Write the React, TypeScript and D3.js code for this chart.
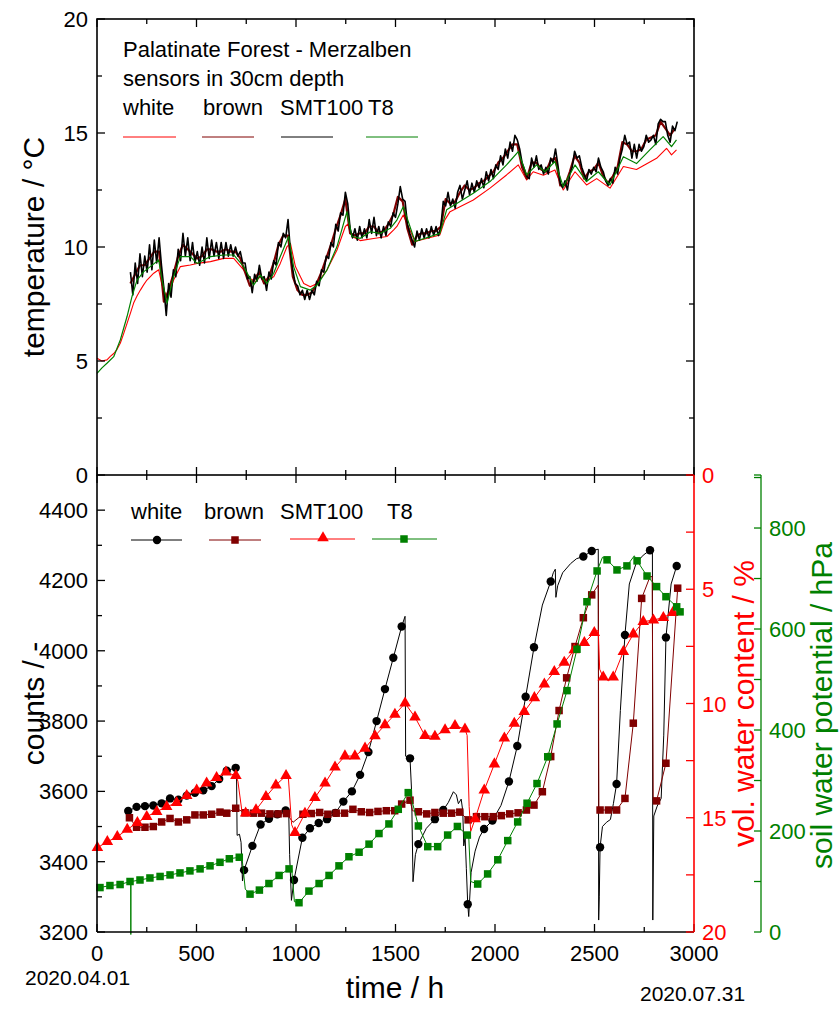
import React from 'react';
import * as d3 from 'd3';

const FONT = '"Liberation Sans", Arial, Helvetica, sans-serif';
const RED = '#ff0000';
const BROWN = '#800000';
const GREEN = '#008000';

// ---------- tick labels ----------
const xTickLabels = [0, 500, 1000, 1500, 2000, 2500, 3000];
const tempTickLabels = [0, 5, 10, 15, 20];
const countTickLabels = [3200, 3400, 3600, 3800, 4000, 4200, 4400];
const vwcTickLabels = [0, 5, 10, 15, 20];
const hpaTickLabels = [0, 200, 400, 600, 800];

// ---------- top panel: temperatures (°C) ----------
// SMT100 (black), sampled every 12 h from t = 168 h
const smtTempStart = 168;
const smtTempStep = 12;
const tempSMT100 = [
  8.9, 7.9, 9.3, 8.4, 9.7, 8.7, 9.6, 8.9, 10.1, 9.0, 10.3, 9.3, 10.4, 9.2, 8.2, 7.0,
  8.4, 7.8, 9.0, 8.7, 9.9, 9.4, 10.6, 9.6, 10.4, 9.4, 10.2, 9.3, 9.8, 9.2, 10.0, 9.3,
  10.4, 9.5, 10.3, 9.6, 10.2, 9.5, 10.2, 9.5, 10.2, 9.6, 10.1, 9.6, 10.0, 9.6, 9.8, 9.3,
  9.3, 8.6, 8.7, 8.0, 8.8, 8.5, 9.2, 8.6, 8.7, 8.1, 8.9, 8.6, 9.4, 9.2, 10.2, 10.0,
  10.6, 10.4, 11.2, 9.8, 9.0, 8.4, 8.3, 7.9, 8.1, 7.7, 8.1, 7.7, 8.1, 7.9, 8.5, 8.3,
  9.0, 8.9, 9.6, 9.5, 10.2, 10.0, 11.0, 10.7, 11.5, 11.4, 12.4, 11.9, 10.8, 10.4, 10.8, 10.3,
  10.9, 10.4, 10.8, 10.4, 11.2, 10.6, 11.3, 10.5, 10.9, 10.4, 10.9, 10.5, 11.1, 10.9, 11.5, 11.3,
  11.9, 12.65, 12.1, 12.0, 11.0, 10.6, 10.3, 10.0, 10.7, 10.3, 10.8, 10.4, 10.8, 10.4, 10.9, 10.5,
  10.9, 10.5, 10.9, 12.0, 11.8, 12.4, 11.8, 12.1, 11.7, 12.4, 12.7, 12.1, 12.5, 12.9, 12.3, 12.8,
  12.4, 12.9, 12.6, 13.0, 12.6, 13.3, 12.9, 13.4, 13.0, 13.6, 13.4, 14.0, 13.6, 14.3, 13.9, 14.6,
  14.2, 14.9, 14.7, 14.3, 13.7, 13.4, 13.1, 13.0, 13.9, 13.5, 14.0, 13.4, 13.6, 13.2, 13.5, 13.2,
  13.9, 13.7, 14.3, 13.6, 12.8, 12.6, 12.9, 12.5, 13.2, 13.5, 14.2, 13.9, 14.0, 13.5, 13.2, 12.9,
  13.4, 13.2, 13.5, 13.3, 13.9, 13.5, 13.3, 12.9, 12.7, 13.0, 12.8, 13.5, 13.2, 13.9, 14.3, 14.9,
  14.5, 14.6, 13.9, 14.5, 13.9, 14.5, 14.2, 14.4, 14.9, 14.6, 14.7, 14.9, 14.5, 15.4, 15.6, 15.5,
  15.5, 14.9, 14.6, 15.3, 15.1, 15.5,
];

// brown sensor, sampled every 24 h from t = 168 h
const brownTempStart = 168;
const brownTempStep = 24;
const tempBrown = [
  8.4, 8.8, 9.2, 9.2, 9.5, 9.8, 9.8, 7.6, 8.1, 8.8, 9.6, 10.1, 9.9, 9.7, 9.5, 9.6,
  9.9, 9.9, 9.8, 9.8, 9.9, 9.8, 9.8, 9.5, 8.9, 8.3, 8.6, 8.9, 8.4, 8.7, 9.3, 10.1,
  10.5, 10.5, 8.7, 8.1, 7.9, 7.9, 8.0, 8.4, 8.9, 9.5, 10.1, 10.8, 11.4, 12.1, 10.6, 10.5,
  10.6, 10.6, 10.9, 10.9, 10.6, 10.7, 11.0, 11.4, 12.2, 12.0, 10.8, 10.1, 10.5, 10.6, 10.6, 10.7,
  10.7, 10.9, 12.1, 11.9, 12.0, 12.4, 12.7, 12.5, 12.6, 12.8, 12.9, 13.1, 13.3, 13.7, 13.9, 14.2,
  14.5, 14.5, 13.5, 13.0, 13.7, 13.7, 13.4, 13.3, 13.8, 13.9, 12.7, 12.7, 13.3, 14.0, 13.7, 13.0,
  13.3, 13.4, 13.7, 13.1, 12.8, 13.1, 13.5, 14.6, 14.5, 14.2, 14.2, 14.3, 14.7, 14.8, 14.9, 15.5,
  15.2, 14.9, 15.2,
];

// white sensor (red line), [hour, °C]
const tempWhite: [number, number][] = [
  [0, 5.12], [25, 5.0], [50, 5.05], [67, 5.2], [84, 5.33], [100, 5.5], [117, 5.78], [134, 6.2],
  [151, 6.65], [168, 7.1], [184, 7.54], [201, 7.85], [218, 8.11], [235, 8.35], [251, 8.55], [268, 8.7],
  [285, 8.85], [310, 9.0], [327, 8.33], [352, 7.75], [368, 8.1], [385, 8.55], [419, 9.14], [469, 9.21],
  [503, 9.28], [570, 9.36], [637, 9.5], [687, 9.5], [737, 9.0], [770, 8.62], [796, 8.48], [821, 8.7],
  [854, 8.55], [888, 8.7], [921, 9.28], [955, 10.02], [972, 10.16], [997, 9.14], [1039, 8.4], [1072, 8.26],
  [1106, 8.4], [1156, 9.0], [1206, 9.87], [1248, 10.9], [1260, 11.0], [1281, 10.46], [1323, 10.28], [1390, 10.37],
  [1457, 10.46], [1491, 10.75], [1507, 10.9], [1539, 11.4], [1598, 10.24], [1723, 10.53], [1748, 11.19], [1774, 11.55],
  [1891, 12.06], [1975, 12.58], [2058, 13.16], [2117, 13.6], [2159, 12.94], [2192, 13.3], [2243, 13.15], [2301, 13.38],
  [2343, 12.5], [2402, 13.3], [2460, 12.72], [2511, 13.0], [2578, 12.58], [2645, 13.53], [2711, 13.4], [2812, 13.89],
  [2862, 14.33], [2887, 14.04], [2912, 14.26],
];

// T8 sensor (green line), [hour, °C]
const tempT8: [number, number][] = [
  [0, 4.46], [25, 4.7], [50, 4.9], [84, 5.19], [117, 5.92], [151, 6.95], [176, 7.83], [201, 8.55],
  [235, 8.92], [268, 9.14], [310, 9.43], [327, 8.55], [352, 7.54], [385, 8.7], [419, 9.58], [469, 9.58],
  [503, 9.28], [570, 9.58], [637, 9.65], [687, 9.65], [737, 9.14], [787, 8.33], [821, 8.77], [854, 8.4],
  [888, 8.85], [921, 9.58], [963, 10.46], [988, 9.14], [1022, 8.26], [1072, 8.11], [1106, 8.33], [1156, 9.0],
  [1206, 10.02], [1256, 11.55], [1281, 10.46], [1323, 10.38], [1374, 10.67], [1424, 10.6], [1474, 10.82], [1507, 11.18],
  [1539, 11.77], [1598, 10.24], [1723, 10.6], [1757, 11.63], [1891, 12.36], [1975, 12.87], [2058, 13.6], [2117, 14.18],
  [2159, 13.16], [2209, 13.6], [2251, 13.3], [2301, 13.75], [2343, 12.65], [2402, 13.6], [2460, 12.87], [2519, 13.3],
  [2578, 12.72], [2645, 13.96], [2711, 13.66], [2778, 14.26], [2845, 14.84], [2887, 14.4], [2912, 14.7],
];

// ---------- bottom panel ----------
// white sensor, counts: marked points and extra line points
const whiteMarkers: [number, number][] = [
  [157, 3544], [199, 3556], [241, 3558], [283, 3560], [325, 3566], [367, 3580], [409, 3576], [451, 3588],
  [492, 3596], [534, 3603], [576, 3615], [614, 3635], [652, 3659], [697, 3667], [739, 3376], [781, 3445],
  [822, 3506], [864, 3522], [906, 3535], [948, 3546], [990, 3348], [1032, 3468], [1070, 3495], [1114, 3510],
  [1156, 3521], [1198, 3539], [1238, 3571], [1281, 3600], [1322, 3647], [1364, 3712], [1405, 3800], [1447, 3891],
  [1489, 3980], [1531, 4069], [1573, 3694], [1615, 3450], [1698, 3521], [1740, 3547], [1863, 3279], [1945, 3493],
  [1987, 3517], [2070, 3628], [2112, 3729], [2154, 3869], [2196, 4010], [2280, 4197], [2444, 4268], [2486, 4284],
  [2528, 3441], [2611, 3621], [2653, 4045], [2779, 4286], [2859, 4038], [2913, 4241],
];
const whiteLineExtra: [number, number][] = [
  [701, 3660], [704, 3475], [716, 3478], [724, 3455], [731, 3345],
  [963, 3552], [968, 3420], [977, 3290],
  [1548, 4098], [1551, 3700], [1581, 3600], [1588, 3343], [1600, 3420], [1655, 3495],
  [1765, 3568], [1791, 3599], [1806, 3590], [1816, 3565], [1830, 3578], [1838, 3545], [1843, 3445], [1850, 3470], [1856, 3380],
  [1868, 3244], [1880, 3370], [1900, 3430], [1922, 3470], [2030, 3560], [2238, 4130],
  [2293, 4222], [2303, 4232], [2306, 4152], [2315, 4185], [2340, 4222], [2380, 4248], [2410, 4262],
  [2519, 4289], [2521, 3234], [2524, 3300], [2540, 3500], [2560, 3512], [2580, 3520], [2595, 3565],
  [2630, 3830], [2675, 4190], [2710, 4250], [2745, 4272],
  [2791, 4290], [2793, 3234], [2798, 3530], [2815, 3558], [2835, 3580], [2848, 3760], [2885, 4190],
];

// brown sensor, counts
const brownMarkers: [number, number][] = [
  [163, 3525], [199, 3498], [241, 3498], [283, 3500], [325, 3513], [367, 3523], [409, 3513], [451, 3519],
  [492, 3533], [534, 3533], [576, 3535], [618, 3541], [652, 3538], [697, 3552], [744, 3539], [786, 3538],
  [827, 3538], [869, 3536], [910, 3536], [952, 3537], [1035, 3535], [1077, 3537], [1119, 3540], [1160, 3535],
  [1202, 3538], [1244, 3538], [1286, 3549], [1328, 3542], [1370, 3540], [1412, 3543], [1454, 3545], [1496, 3545],
  [1531, 3564], [1573, 3575], [1615, 3542], [1657, 3536], [1698, 3540], [1740, 3538], [1782, 3538], [1823, 3541],
  [1865, 3519], [1907, 3528], [1949, 3528], [1991, 3528], [2032, 3531], [2074, 3536], [2116, 3539], [2158, 3547],
  [2196, 3561], [2238, 3599], [2280, 3699], [2322, 3830], [2360, 3923], [2402, 4012], [2444, 4094], [2486, 4159],
  [2528, 3547], [2570, 3547], [2611, 3547], [2653, 3580], [2695, 3794], [2737, 4149], [2812, 3573], [2859, 3680],
  [2918, 4178],
];
const brownLineExtra: [number, number][] = [
  [985, 3512], [1585, 3545], [2519, 4187], [2522, 3547], [2779, 4211], [2790, 4211], [2795, 3565],
];

// SMT100, volumetric water content (%)
const smtMarkers: [number, number][] = [
  [2, 16.31], [52, 16.05], [102, 15.83], [152, 15.51], [203, 15.22], [250, 14.95], [300, 14.73], [350, 14.52],
  [400, 14.34], [451, 14.03], [501, 13.79], [551, 13.49], [601, 13.25], [648, 13.01], [698, 13.16], [747, 14.8],
  [799, 14.66], [849, 14.08], [899, 13.57], [950, 13.16], [995, 15.65], [1045, 14.81], [1095, 14.12], [1146, 13.49],
  [1196, 12.79], [1246, 12.3], [1296, 12.3], [1347, 11.96], [1397, 11.42], [1447, 10.94], [1497, 10.48], [1548, 9.99],
  [1598, 10.6], [1648, 11.41], [1698, 11.44], [1749, 11.16], [1799, 10.97], [1849, 11.12], [1900, 15.05], [1946, 13.79],
  [1997, 12.65], [2047, 11.52], [2097, 10.87], [2147, 10.36], [2198, 9.75], [2248, 9.15], [2298, 8.61], [2348, 8.2],
  [2398, 7.66], [2449, 7.34], [2499, 6.9], [2544, 8.85], [2594, 8.85], [2645, 7.73], [2695, 6.96], [2745, 6.42],
  [2796, 6.35], [2846, 6.24], [2893, 6.02],
];
const smtLineExtra: [number, number][] = [
  [708, 13.4], [728, 14.7], [962, 13.3], [978, 15.3], [1860, 11.4], [1870, 14.5], [1878, 15.6],
  [2519, 6.8], [2526, 8.5], [2570, 9.0],
];

// T8, soil water potential (hPa)
const t8Markers: [number, number][] = [
  [15, 88], [65, 92], [116, 94], [166, 100], [216, 103], [266, 107], [317, 110], [367, 113],
  [417, 117], [467, 121], [518, 125], [568, 131], [618, 138], [665, 145], [715, 148], [769, 75],
  [816, 83], [864, 96], [915, 112], [965, 125], [1015, 58], [1065, 81], [1116, 96], [1166, 112],
  [1216, 131], [1266, 149], [1317, 158], [1367, 174], [1417, 195], [1467, 214], [1514, 243], [1564, 276],
  [1615, 210], [1662, 169], [1712, 169], [1762, 192], [1811, 209], [1861, 192], [1913, 95], [1963, 115],
  [2014, 143], [2064, 181], [2114, 218], [2161, 255], [2211, 294], [2265, 347], [2312, 412], [2362, 478],
  [2412, 560], [2462, 654], [2513, 715], [2563, 737], [2613, 717], [2663, 725], [2714, 735], [2764, 705],
  [2812, 684], [2859, 664], [2913, 644], [2930, 634],
];
const t8LineExtra: [number, number][] = [
  [169, 100], [170, -5], [171, 100], [728, 150], [745, 85], [978, 127], [992, 60], [1575, 272],
  [1868, 190], [1878, 100], [2540, 742], [2700, 745],
];

const merge = (a: [number, number][], b: [number, number][]) =>
  [...a, ...b].sort((p, q) => p[0] - q[0]);

export default function App() {
  const X0 = 97, X1 = 694;
  const TY0 = 19, TY1 = 475;
  const BY0 = 475, BY1 = 932;
  const GX = 761;

  const x = d3.scaleLinear().domain([0, 3000]).range([X0, X1]);
  const yT = d3.scaleLinear().domain([0, 20]).range([TY1, TY0]);
  const yC = d3.scaleLinear().domain([3200, 4500]).range([BY1, BY0]);
  const yV = d3.scaleLinear().domain([0, 20]).range([BY0, BY1]);
  const yP = d3.scaleLinear().domain([0, 905]).range([BY1, BY0]);

  const mk = (ys: d3.ScaleLinear<number, number>) =>
    d3.line<[number, number]>().x((d) => x(d[0])).y((d) => ys(d[1]));

  const smtTempData: [number, number][] = tempSMT100.map((v, i) => [smtTempStart + i * smtTempStep, v]);
  const brownTempData: [number, number][] = tempBrown.map((v, i) => [brownTempStart + i * brownTempStep, v]);

  const xTicks = d3.range(0, 3001, 250);
  const tTicks = d3.range(0, 20.01, 2.5);
  const cTicks = d3.range(3200, 4401, 100);
  const vTicks = d3.range(0, 20.01, 2.5);
  const pTicks = d3.range(0, 901, 100);

  const tri = d3.symbol().type(d3.symbolTriangle).size(58)();
  const sq = 7.5;

  return (
    <div style={{ position: 'absolute', left: 0, top: 0 }}>
      <svg width={840} height={1012} style={{ display: 'block', background: '#fff', fontFamily: FONT }}>
        <rect x={0} y={0} width={840} height={1012} fill="#fff" />

        {/* ===== TOP PANEL ===== */}
        <g fill="none" strokeLinejoin="round">
          <path d={mk(yT)(tempWhite) || ''} stroke={RED} strokeWidth={1.1} />
          <path d={mk(yT)(brownTempData) || ''} stroke={BROWN} strokeWidth={2.2} />
          <path d={mk(yT)(smtTempData) || ''} stroke="#000" strokeWidth={1.6} />
          <path d={mk(yT)(tempT8) || ''} stroke={GREEN} strokeWidth={1.2} />
        </g>
        <rect x={X0} y={TY0} width={X1 - X0} height={TY1 - TY0} fill="none" stroke="#000" strokeWidth={1.6} />
        <g stroke="#000" strokeWidth={1.3}>
          {xTicks.map((t) => {
            const L = t % 500 === 0 ? 8 : 5;
            return (
              <g key={'tx' + t}>
                <line x1={x(t)} x2={x(t)} y1={TY0} y2={TY0 + L} />
                <line x1={x(t)} x2={x(t)} y1={TY1} y2={TY1 - L} />
                <line x1={x(t)} x2={x(t)} y1={BY0} y2={BY0 + L} />
                <line x1={x(t)} x2={x(t)} y1={BY1} y2={BY1 - L} />
              </g>
            );
          })}
          {tTicks.map((v) => {
            const L = v % 5 === 0 ? 8 : 5;
            return (
              <g key={'tt' + v}>
                <line x1={X0} x2={X0 + L} y1={yT(v)} y2={yT(v)} />
                <line x1={X1} x2={X1 - L} y1={yT(v)} y2={yT(v)} />
              </g>
            );
          })}
          {cTicks.map((v) => {
            const L = v % 200 === 0 ? 8 : 5;
            return <line key={'ct' + v} x1={X0} x2={X0 + L} y1={yC(v)} y2={yC(v)} />;
          })}
        </g>
        <g fontSize={22} fill="#000" textAnchor="end">
          {tempTickLabels.map((v) => (
            <text key={'tl' + v} x={88} y={yT(v) + 8}>{v}</text>
          ))}
        </g>
        <text x={0} y={0} transform={`translate(44,${(TY0 + TY1) / 2}) rotate(-90)`} fontSize={30} textAnchor="middle">
          temperature / °C
        </text>

        {/* top legend */}
        <g fontSize={22} fill="#000">
          <text x={123} y={57}>Palatinate Forest - Merzalben</text>
          <text x={123} y={86}>sensors in 30cm depth</text>
          <text x={123} y={115}>white</text>
          <text x={203} y={115}>brown</text>
          <text x={280} y={115}>SMT100</text>
          <text x={368} y={115}>T8</text>
        </g>
        <g strokeWidth={1}>
          <line x1={123} x2={176} y1={137} y2={137} stroke={RED} />
          <line x1={202} x2={254} y1={137} y2={137} stroke={BROWN} />
          <line x1={281} x2={333} y1={137} y2={137} stroke="#000" />
          <line x1={366} x2={418} y1={137} y2={137} stroke={GREEN} />
        </g>

        {/* ===== BOTTOM PANEL ===== */}
        <g fill="none" strokeLinejoin="round" strokeWidth={1}>
          <path d={mk(yC)(merge(whiteMarkers, whiteLineExtra)) || ''} stroke="#000" />
        </g>
        <g fill="#000">
          {whiteMarkers.map((d, i) => (
            <circle key={'wm' + i} cx={x(d[0])} cy={yC(d[1])} r={4.2} />
          ))}
        </g>
        <path d={mk(yC)(merge(brownMarkers, brownLineExtra)) || ''} stroke={BROWN} fill="none" strokeWidth={1} />
        <g fill={BROWN}>
          {brownMarkers.map((d, i) => (
            <rect key={'bm' + i} x={x(d[0]) - sq / 2} y={yC(d[1]) - sq / 2} width={sq} height={sq} />
          ))}
        </g>
        <path d={mk(yV)(merge(smtMarkers, smtLineExtra)) || ''} stroke={RED} fill="none" strokeWidth={1} />
        <g fill={RED}>
          {smtMarkers.map((d, i) => (
            <path key={'sm' + i} d={tri || ''} transform={`translate(${x(d[0])},${yV(d[1])})`} />
          ))}
        </g>
        <path d={mk(yP)(merge(t8Markers, t8LineExtra)) || ''} stroke={GREEN} fill="none" strokeWidth={1} />
        <g fill={GREEN}>
          {t8Markers.map((d, i) => (
            <rect key={'gm' + i} x={x(d[0]) - sq / 2} y={yP(d[1]) - sq / 2} width={sq} height={sq} />
          ))}
        </g>

        {/* bottom axes */}
        <g stroke="#000" strokeWidth={1.6}>
          <line x1={X0} x2={X0} y1={BY0} y2={BY1} />
          <line x1={X0} x2={X1} y1={BY1} y2={BY1} />
        </g>
        <g stroke={RED} strokeWidth={1.6}>
          <line x1={X1} x2={X1} y1={BY0} y2={BY1} />
        </g>
        <g stroke={RED} strokeWidth={1.3}>
          {vTicks.map((v) => (
            <line key={'vt' + v} x1={X1} x2={X1 - 8} y1={yV(v)} y2={yV(v)} />
          ))}
        </g>
        <g stroke={GREEN} strokeWidth={1.3}>
          <line x1={GX} x2={GX} y1={BY0} y2={BY1} />
          <line x1={GX} x2={GX - 7} y1={BY0} y2={BY0} />
          {pTicks.map((v) => (
            <line key={'pt' + v} x1={GX} x2={GX - 7} y1={yP(v)} y2={yP(v)} />
          ))}
        </g>

        <g fontSize={22} fill="#000" textAnchor="end">
          {countTickLabels.map((v) => (
            <text key={'cl' + v} x={88} y={yC(v) + 8}>{v}</text>
          ))}
        </g>
        <g fontSize={22} fill="#000" textAnchor="middle">
          {xTickLabels.map((v) => (
            <text key={'xl' + v} x={x(v)} y={961}>{v}</text>
          ))}
        </g>
        <g fontSize={22} fill={RED}>
          {vwcTickLabels.map((v) => (
            <text key={'vl' + v} x={702} y={yV(v) + 8}>{v}</text>
          ))}
        </g>
        <g fontSize={22} fill={GREEN}>
          {hpaTickLabels.map((v) => (
            <text key={'pl' + v} x={769} y={yP(v) + 8}>{v}</text>
          ))}
        </g>

        <text transform={`translate(44,${(BY0 + BY1) / 2}) rotate(-90)`} fontSize={30} textAnchor="middle">
          counts / -
        </text>
        <text transform={`translate(754,${(BY0 + BY1) / 2}) rotate(-90)`} fontSize={30} textAnchor="middle" fill={RED}>
          vol. water content / %
        </text>
        <text transform={`translate(832,${(BY0 + BY1) / 2 + 2}) rotate(-90)`} fontSize={30} textAnchor="middle" fill={GREEN}>
          soil water potential / hPa
        </text>
        <text x={395} y={998} fontSize={30} textAnchor="middle">time / h</text>
        <text x={25} y={985} fontSize={21}>2020.04.01</text>
        <text x={640} y={1001} fontSize={21}>2020.07.31</text>

        {/* bottom legend */}
        <g fontSize={22} fill="#000">
          <text x={131} y={519}>white</text>
          <text x={204} y={519}>brown</text>
          <text x={280} y={519}>SMT100</text>
          <text x={387} y={519}>T8</text>
        </g>
        <g strokeWidth={1}>
          <line x1={131} x2={182} y1={540} y2={540} stroke="#000" />
          <line x1={209} x2={261} y1={540} y2={540} stroke={BROWN} />
          <line x1={290} x2={355} y1={539} y2={539} stroke={RED} />
          <line x1={372} x2={437} y1={539} y2={539} stroke={GREEN} />
        </g>
        <circle cx={157} cy={540} r={4.2} fill="#000" />
        <rect x={235 - sq / 2} y={540 - sq / 2} width={sq} height={sq} fill={BROWN} />
        <path d={tri || ''} transform="translate(323,538)" fill={RED} />
        <rect x={404 - sq / 2} y={539 - sq / 2} width={sq} height={sq} fill={GREEN} />
      </svg>
    </div>
  );
}
